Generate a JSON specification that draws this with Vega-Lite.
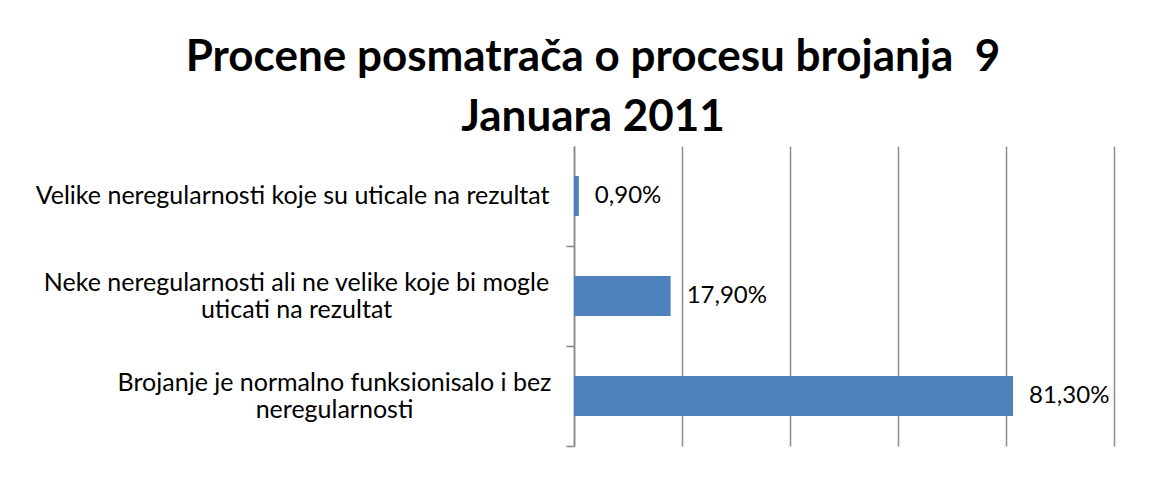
{
  "$schema": "https://vega.github.io/schema/vega-lite/v6.json",
  "autosize": "none",
  "width": 540,
  "height": 300,
  "padding": {"left": 574, "top": 146, "right": 52, "bottom": 57},
  "background": "white",
  "title": {
    "text": ["Procene posmatrača o procesu brojanja \u00a09", "Januara 2011"],
    "font": "Lato",
    "fontSize": 44,
    "fontWeight": "bold",
    "color": "black",
    "anchor": "middle",
    "lineHeight": 60,
    "offset": 6,
    "dx": -251
  },
  "config": {
    "view": {"stroke": null}
  },
  "data": {
    "values": [
      {"kategorija": "Velike neregularnosti koje su uticale na rezultat", "udeo": 0.009},
      {"kategorija": "Neke neregularnosti ali ne velike koje bi mogle uticati na rezultat", "udeo": 0.179},
      {"kategorija": "Brojanje je normalno funksionisalo i bez neregularnosti", "udeo": 0.813}
    ]
  },
  "transform": [
    {"calculate": "replace(format(datum.udeo, '.2%'), '.', ',')", "as": "oznaka"}
  ],
  "encoding": {
    "y": {
      "field": "kategorija",
      "type": "nominal",
      "sort": null,
      "scale": {"paddingInner": 0.6, "paddingOuter": 0.3},
      "axis": {
        "title": null,
        "bandPosition": 1.75,
        "domainColor": "#868686",
        "domainWidth": 1.5,
        "tickColor": "#868686",
        "tickWidth": 1.5,
        "tickSize": 8,
        "labelFont": "Lato",
        "labelFontSize": 25,
        "labelColor": "black",
        "labelLineHeight": 27,
        "labelLimit": 0,
        "labelExpr": "indexof(datum.value, 'Neke') == 0 ? ['Neke neregularnosti ali ne velike koje bi mogle', 'uticati na rezultat'] : indexof(datum.value, 'Brojanje') == 0 ? ['Brojanje je normalno funksionisalo i bez', 'neregularnosti'] : datum.value",
        "labelAlign": {"condition": {"test": "indexof(datum.value, 'Velike') == 0", "value": "right"}, "value": "center"},
        "labelOffset": {"condition": {"test": "indexof(datum.value, 'Velike') == 0", "value": 0}, "value": -13},
        "labelPadding": {"condition": [{"test": "indexof(datum.value, 'Velike') == 0", "value": 17}, {"test": "indexof(datum.value, 'Neke') == 0", "value": 270}], "value": 232}
      }
    },
    "x": {
      "field": "udeo",
      "type": "quantitative",
      "scale": {"domain": [0, 1], "nice": false},
      "axis": {
        "title": null,
        "labels": false,
        "ticks": false,
        "domain": false,
        "values": [0, 0.2, 0.4, 0.6, 0.8, 1],
        "grid": true,
        "gridColor": "#8c8c8c",
        "gridWidth": 1.5
      }
    }
  },
  "layer": [
    {"mark": {"type": "bar", "color": "#4F81BD"}},
    {
      "mark": {"type": "text", "align": "left", "baseline": "middle", "dx": 16, "font": "Lato", "fontSize": 24, "color": "black"},
      "encoding": {"text": {"field": "oznaka", "type": "nominal"}}
    }
  ]
}
